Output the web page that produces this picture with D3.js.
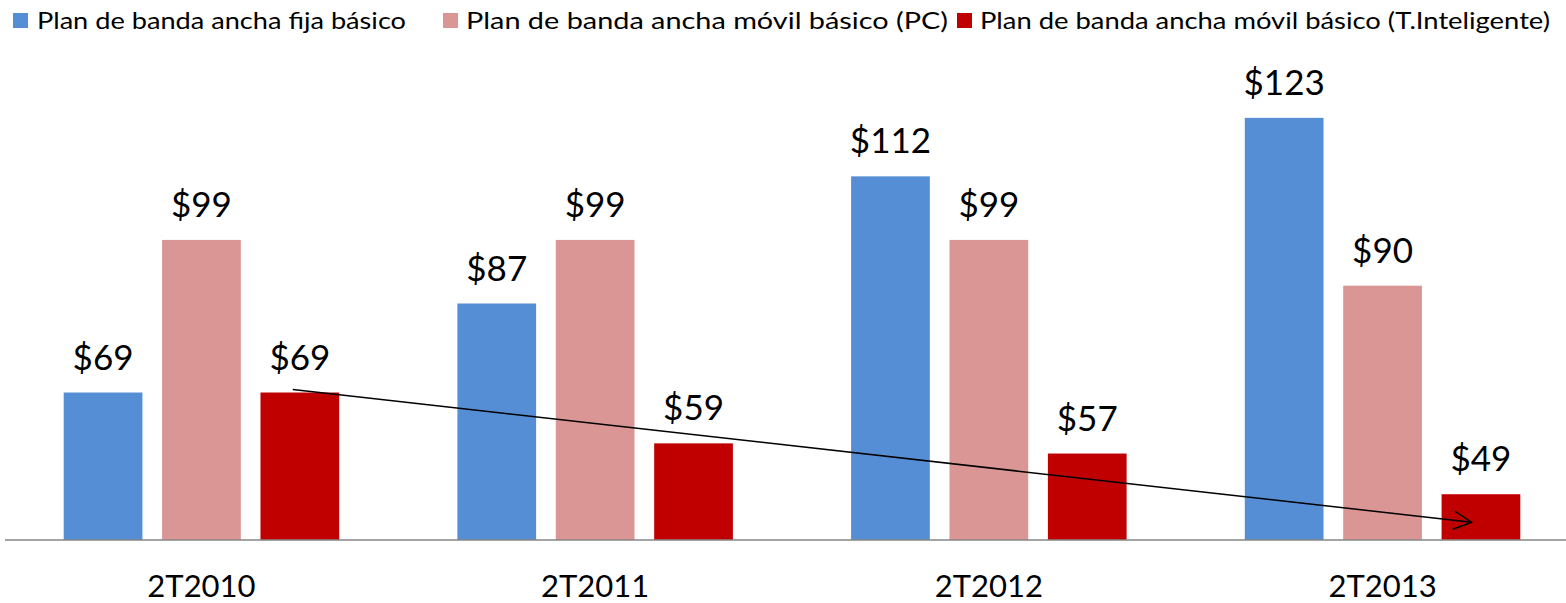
<!DOCTYPE html>
<html>
<head>
<meta charset="utf-8">
<script src="https://cdn.jsdelivr.net/npm/d3@7"></script>
<style>
  html, body { margin: 0; padding: 0; background: #fff; }
  svg { display: block; font-family: Lato, "Open Sans", sans-serif; }
</style>
</head>
<body>
<svg id="chart" width="1566" height="603"></svg>
<script>
// ---- data ----
const categories = ["2T2010", "2T2011", "2T2012", "2T2013"];
const seriesNames = [
  "Plan de banda ancha fija básico",
  "Plan de banda ancha móvil básico (PC)",
  "Plan de banda ancha móvil básico (T.Inteligente)"
];
const fijo = [69, 86.5, 111.5, 123];
const movilPC = [99, 99, 99, 90];
const movilTI = [69, 59, 57, 49];
const seriesColors = ["#558ED5", "#D99694", "#C00000"];
// trend arrow drawn over the smartphone series (value space)
const trendStart = { cat: "2T2010", value: 69.6 };
const trendEnd = { cat: "2T2013", value: 43.5 };

const seriesValues = [fijo, movilPC, movilTI];

// ---- layout ----
const W = 1566, H = 603;
const svg = d3.select("#chart");
const baseY = 540;
const y = d3.scaleLinear().domain([40, 130]).range([baseY, baseY - 90 * 5.086]);
const x0 = d3.scaleBand().domain(categories).range([4.6, 1579.4]).paddingInner(0).paddingOuter(0);
const groupW = 275.5;
const x1 = d3.scaleBand().domain(d3.range(seriesNames.length))
  .range([(x0.bandwidth() - groupW) / 2, (x0.bandwidth() + groupW) / 2])
  .paddingInner(0.2).paddingOuter(0);

const fmt = d3.format("$.0f");

// bars
const groups = svg.append("g").selectAll("g")
  .data(categories)
  .join("g")
  .attr("transform", d => `translate(${x0(d)},0)`);

groups.each(function(cat, ci) {
  const g = d3.select(this);
  seriesValues.forEach((vals, si) => {
    const v = vals[ci];
    g.append("rect")
      .attr("x", x1(si))
      .attr("width", x1.bandwidth())
      .attr("y", y(v))
      .attr("height", baseY - y(v))
      .attr("fill", seriesColors[si]);
    g.append("text")
      .attr("x", x1(si) + x1.bandwidth() / 2)
      .attr("y", y(v) - 23)
      .attr("text-anchor", "middle")
      .attr("font-size", 35)
      .attr("fill", "#000")
      .text(fmt(v));
  });
});

// axis
const xAxis = d3.axisBottom(x0).tickSize(0).tickPadding(0);
const axG = svg.append("g").attr("transform", `translate(0,${baseY})`).call(xAxis);
axG.select(".domain").attr("d", `M5,0H${W}`).attr("stroke", "#868686").attr("stroke-width", 1.5);
axG.selectAll(".tick text")
  .attr("font-size", 31)
  .attr("font-family", "Lato, sans-serif")
  .attr("fill", "#000")
  .attr("dy", 0)
  .attr("y", 56.5);

// trend arrow
const bw = x1.bandwidth();
const redIdx = 2;
const sx = x0(trendStart.cat) + x1(redIdx) + 0.41 * bw;
const sy = y(trendStart.value);
const ex = x0(trendEnd.cat) + x1(redIdx) + 0.38 * bw;
const ey = y(trendEnd.value);
svg.append("line")
  .attr("x1", sx).attr("y1", sy).attr("x2", ex).attr("y2", ey)
  .attr("stroke", "#000").attr("stroke-width", 1.5);
const ang = Math.atan2(ey - sy, ex - sx) + Math.PI;
const armLen = 20, half = 27 * Math.PI / 180;
const a1 = [ex + armLen * Math.cos(ang - half), ey + armLen * Math.sin(ang - half)];
const a2 = [ex + armLen * Math.cos(ang + half), ey + armLen * Math.sin(ang + half)];
svg.append("path")
  .attr("d", `M${a1[0]},${a1[1]}L${ex},${ey}L${a2[0]},${a2[1]}`)
  .attr("fill", "none").attr("stroke", "#000").attr("stroke-width", 1.5);

// legend
const legendItems = [
  { sq: 13, tx: 37, w: 369 },
  { sq: 443, tx: 466, w: 482 },
  { sq: 957, tx: 980, w: 570 }
];
const leg = svg.append("g");
seriesNames.forEach((name, i) => {
  const it = legendItems[i];
  leg.append("rect")
    .attr("x", it.sq).attr("y", 13).attr("width", 15).attr("height", 15)
    .attr("fill", seriesColors[i]);
  leg.append("text")
    .attr("x", it.tx).attr("y", 29)
    .attr("font-size", 24)
    .attr("fill", "#000")
    .attr("textLength", it.w)
    .attr("lengthAdjust", "spacingAndGlyphs")
    .text(name);
});
</script>
</body>
</html>
